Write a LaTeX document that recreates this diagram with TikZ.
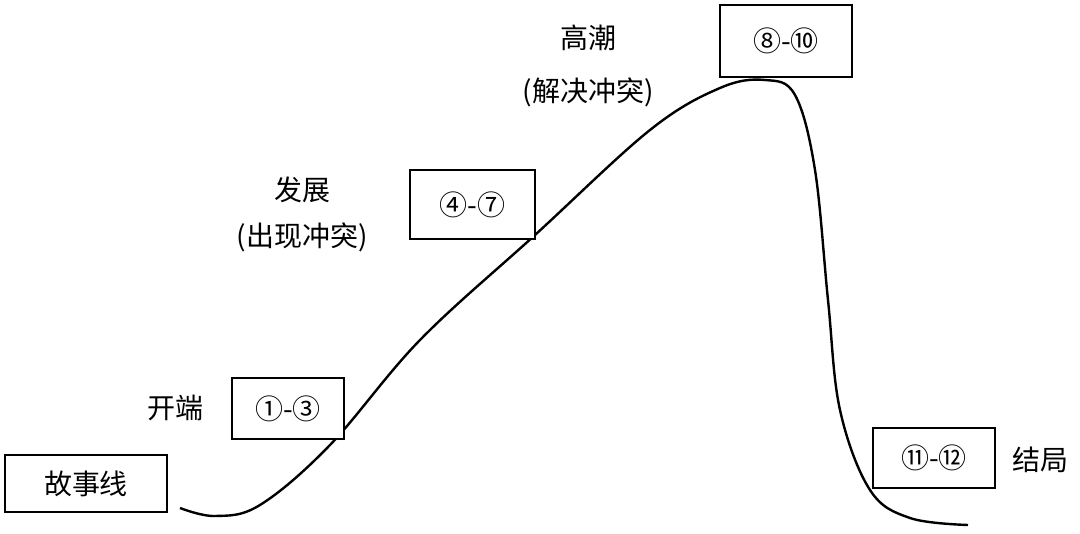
\documentclass[tikz,border=0pt]{standalone}
\usepackage{fontspec}
\setmainfont{Noto Sans CJK SC}
\begin{document}
\begin{tikzpicture}[x=1pt,y=-1pt,
  bx/.style={draw,line width=2pt,fill=white,inner sep=0pt},
  lb/.style={font=\fontsize{28}{30}\selectfont},
  line width=2.4pt]
\useasboundingbox (0,0) rectangle (1080,534);
\draw plot[smooth,tension=0.6] coordinates{(180,508) (215,516) (260,505) (330,445) (420,340) (535,235) (650,130) (720,88) (765,80) (795,95) (815,170) (828,300) (840,410) (870,490) (910,518) (968,525)};
\node[bx,minimum width=162pt,minimum height=57pt,lb] (a) at (86,483.5) {故事线};
\node[bx,minimum width=112pt,minimum height=61pt,lb] (b) at (288,408.5) {①-③};
\node[bx,minimum width=125pt,minimum height=69pt,lb] (c) at (472.5,204.5) {④-⑦};
\node[bx,minimum width=132pt,minimum height=72pt,lb] (d) at (786,41) {⑧-⑩};
\node[bx,minimum width=122pt,minimum height=60pt,lb] (e) at (934,458) {⑪-⑫};
\node[lb] (t1) at (175,408) {开端};
\node[lb] (t2) at (302,190) {发展};
\node[lb] (t3) at (302,237) {(出现冲突)};
\node[lb] (t4) at (588,38) {高潮};
\node[lb] (t5) at (588,92) {(解决冲突)};
\node[lb] (t6) at (1040,460) {结局};
\end{tikzpicture}
\end{document}
